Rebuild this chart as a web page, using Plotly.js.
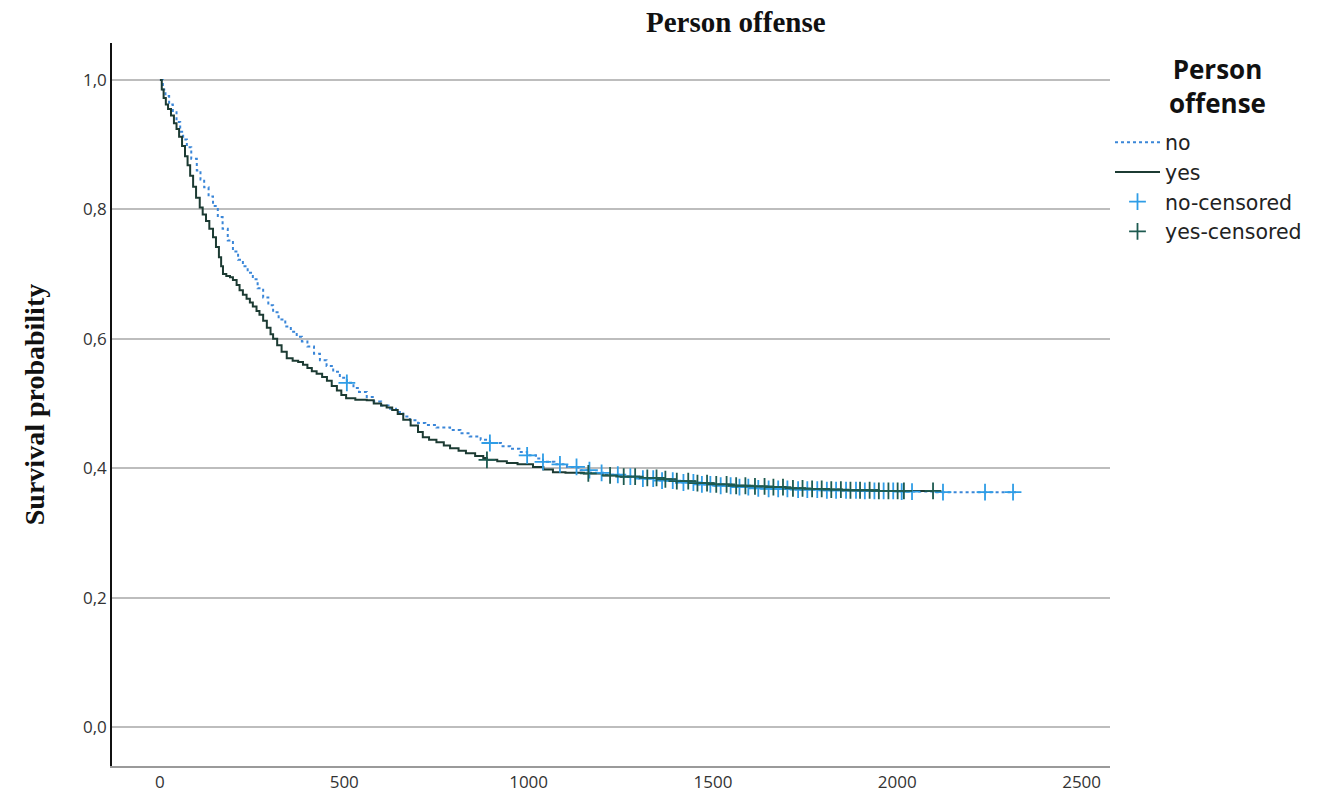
<!DOCTYPE html>
<html>
<head>
<meta charset="utf-8">
<script src="https://cdn.plot.ly/plotly-3.0.1.min.js"></script>
<style>html,body{margin:0;padding:0;background:#fff;}#chart{width:1334px;height:796px;}</style>
</head>
<body>
<div id="chart"></div>
<script>
// Kaplan-Meier estimates
const noTimes = [0, 8, 15, 25, 35, 45, 55, 63, 73, 85, 100, 110, 120, 132, 144, 157, 170, 184, 198, 212, 225, 238, 252, 265, 280, 294, 307, 322, 340, 355, 371, 385, 400, 418, 434, 452, 470, 488, 507, 525, 540, 561, 580, 600, 620, 640, 660, 678, 700, 720, 750, 787, 815, 840, 870, 895, 925, 950, 975, 996, 1020, 1039, 1070, 1104, 1135, 1167, 1210, 1250, 1300, 1350, 1400, 1450, 1500, 1550, 1600, 1650, 1725, 1800, 1900, 2000, 2100, 2322];
const noSurv  = [1.000, 0.985, 0.975, 0.962, 0.950, 0.935, 0.920, 0.908, 0.896, 0.878, 0.860, 0.846, 0.834, 0.820, 0.805, 0.788, 0.770, 0.752, 0.735, 0.722, 0.712, 0.702, 0.692, 0.678, 0.664, 0.652, 0.641, 0.630, 0.619, 0.611, 0.603, 0.596, 0.588, 0.577, 0.567, 0.558, 0.549, 0.540, 0.532, 0.524, 0.518, 0.510, 0.503, 0.497, 0.492, 0.487, 0.480, 0.474, 0.470, 0.467, 0.463, 0.459, 0.454, 0.449, 0.444, 0.439, 0.434, 0.430, 0.425, 0.420, 0.415, 0.410, 0.406, 0.402, 0.397, 0.393, 0.390, 0.387, 0.384, 0.381, 0.378, 0.375, 0.373, 0.371, 0.369, 0.368, 0.367, 0.366, 0.365, 0.364, 0.363, 0.363];

const yesTimes = [0, 5, 10, 16, 22, 30, 38, 45, 52, 60, 68, 75, 82, 90, 98, 108, 116, 125, 134, 144, 152, 160, 166, 171, 180, 190, 198, 208, 216, 225, 235, 244, 252, 262, 270, 280, 290, 300, 307, 318, 330, 344, 360, 375, 388, 400, 412, 425, 440, 453, 466, 480, 492, 505, 530, 561, 580, 600, 615, 630, 645, 660, 680, 700, 713, 730, 750, 770, 787, 810, 830, 855, 877, 887, 915, 941, 970, 1012, 1040, 1066, 1100, 1150, 1200, 1250, 1300, 1350, 1400, 1450, 1500, 1550, 1600, 1650, 1700, 1750, 1800, 1850, 1950, 2021, 2097];
const yesSurv  = [1.000, 0.985, 0.972, 0.962, 0.955, 0.945, 0.933, 0.924, 0.912, 0.898, 0.882, 0.868, 0.852, 0.835, 0.818, 0.803, 0.792, 0.782, 0.770, 0.757, 0.742, 0.726, 0.712, 0.700, 0.697, 0.695, 0.691, 0.683, 0.675, 0.668, 0.662, 0.656, 0.650, 0.643, 0.637, 0.628, 0.617, 0.607, 0.600, 0.590, 0.580, 0.570, 0.566, 0.564, 0.560, 0.555, 0.550, 0.546, 0.541, 0.535, 0.527, 0.520, 0.513, 0.508, 0.506, 0.505, 0.500, 0.497, 0.494, 0.490, 0.484, 0.475, 0.466, 0.456, 0.448, 0.444, 0.440, 0.435, 0.431, 0.427, 0.423, 0.419, 0.416, 0.413, 0.411, 0.408, 0.406, 0.402, 0.398, 0.394, 0.393, 0.392, 0.389, 0.387, 0.385, 0.383, 0.380, 0.377, 0.375, 0.373, 0.372, 0.371, 0.369, 0.368, 0.367, 0.366, 0.365, 0.365, 0.365];

// Censoring times
const noCensored = [507, 895, 996, 1039, 1085, 1130, 1165, 1198, 1242, 1276, 1310, 1338, 1362, 1391, 1420, 1447, 1470, 1493, 1521, 1548, 1572, 1596, 1623, 1651, 1677, 1702, 1731, 1756, 1783, 1809, 1834, 1861, 1888, 1912, 1938, 1963, 1989, 2012, 2040, 2124, 2238, 2314];
const yesCensored = [887, 1162, 1221, 1258, 1289, 1322, 1347, 1371, 1402, 1433, 1458, 1484, 1509, 1537, 1563, 1588, 1614, 1640, 1664, 1690, 1717, 1743, 1769, 1795, 1821, 1847, 1873, 1899, 1925, 1950, 1976, 2001, 2018, 2097];

const yTicks = [0, 0.2, 0.4, 0.6, 0.8, 1.0];
const xTicks = [0, 500, 1000, 1500, 2000, 2500];
const legendTitle = 'Person<br>offense';

function stepAt(times, surv, t) {
  let v = surv[0];
  for (let i = 0; i < times.length; i++) { if (times[i] <= t) v = surv[i]; else break; }
  return v;
}

const tickFont = {family: 'Open Sans, DejaVu Sans, sans-serif', size: 17, color: '#333'};
const legendFont = {family: 'DejaVu Sans, sans-serif', size: 20.5, color: '#222'};
const legendTitleFont = {family: 'Open Sans, DejaVu Sans, sans-serif', size: 26, color: '#111'};

const traces = [
  {x: noTimes, y: noSurv, mode: 'lines', line: {shape: 'hv', color: '#3a86d8', width: 2, dash: 'dot'}, name: 'no'},
  {x: yesTimes, y: yesSurv, mode: 'lines', line: {shape: 'hv', color: '#1c3b33', width: 2}, name: 'yes'},
  {x: noCensored, y: noCensored.map(t => stepAt(noTimes, noSurv, t)), mode: 'markers', name: 'no-censored',
   marker: {symbol: 'cross-thin', size: 12, line: {width: 1.8, color: '#2f9de6'}, color: '#2f9de6'}},
  {x: yesCensored, y: yesCensored.map(t => stepAt(yesTimes, yesSurv, t)), mode: 'markers', name: 'yes-censored',
   marker: {symbol: 'cross-thin', size: 12, line: {width: 1.8, color: '#1d5a50'}, color: '#1d5a50'}}
];

const layout = {
  width: 1334, height: 796,
  margin: {l: 112, r: 224, t: 43, b: 30},
  paper_bgcolor: '#fff', plot_bgcolor: '#fff',
  separators: ',.',
  title: {text: '<b>Person offense</b>', x: 0.625, xref: 'paper', xanchor: 'center', y: 0.972, yref: 'container', yanchor: 'middle',
          font: {family: 'Liberation Serif, Times New Roman, serif', size: 29, color: '#111'}},
  xaxis: {range: [-130, 2577], tickvals: xTicks, ticktext: xTicks.map(String), showgrid: false, zeroline: false,
          showline: true, linecolor: '#9a9a9a', linewidth: 2, ticks: '', tickfont: tickFont},
  yaxis: {range: [-0.06, 1.057], tickvals: yTicks, tickformat: '.1f', showgrid: true, gridcolor: '#bdbdbd', gridwidth: 2,
          zeroline: false, showline: true, linecolor: '#111', linewidth: 1.5, ticks: '', tickfont: tickFont,
          title: {text: '<b>Survival probability</b>', standoff: 30, font: {family: 'Liberation Serif, Times New Roman, serif', size: 28, color: '#111'}}},
  showlegend: true,
  legend: {x: 1.0, xanchor: 'left', y: 0.89, yanchor: 'top', font: legendFont, bgcolor: 'rgba(0,0,0,0)',
           tracegroupgap: 0, itemwidth: 45},
  annotations: [
    {text: '<b>' + legendTitle + '</b>', xref: 'paper', yref: 'paper', x: 1.108, y: 1 - (86 - 43) / 723, xanchor: 'center', yanchor: 'middle', showarrow: false, font: legendTitleFont}
  ]
};

Plotly.newPlot('chart', traces, layout, {displayModeBar: false, responsive: false});
</script>
</body>
</html>
